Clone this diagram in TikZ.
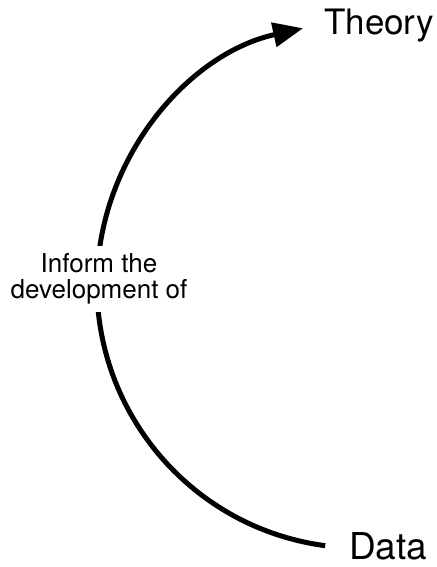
\documentclass[tikz,border=0pt]{standalone}
\usepackage{fontspec}
\setmainfont{TeX Gyre Heros}
\usetikzlibrary{arrows.meta}
\begin{document}
\begin{tikzpicture}[x=1pt,y=1pt,
  endlabel/.style={anchor=base west,inner sep=0pt},
  midlabel/.style={align=center,fill=white,inner xsep=2pt,inner ysep=8pt,font=\fontsize{26}{26}\selectfont},
  flow/.style={line width=5pt,-{Triangle[length=30pt,width=24pt]}}]
\useasboundingbox (0,0) rectangle (436,567);
\node[endlabel,font=\fontsize{35}{40}\selectfont] (theory) at (324,532) {Theory};
\node[endlabel,font=\fontsize{37}{42}\selectfont] (data) at (349,7) {Data};
\coordinate (start) at (325.2,21.3);
\draw[flow] (start) arc[start angle=262.4,end angle=102.5,radius=263];
\node[midlabel] (lab) at (99,288) {Inform the\\development of};
\end{tikzpicture}
\end{document}
